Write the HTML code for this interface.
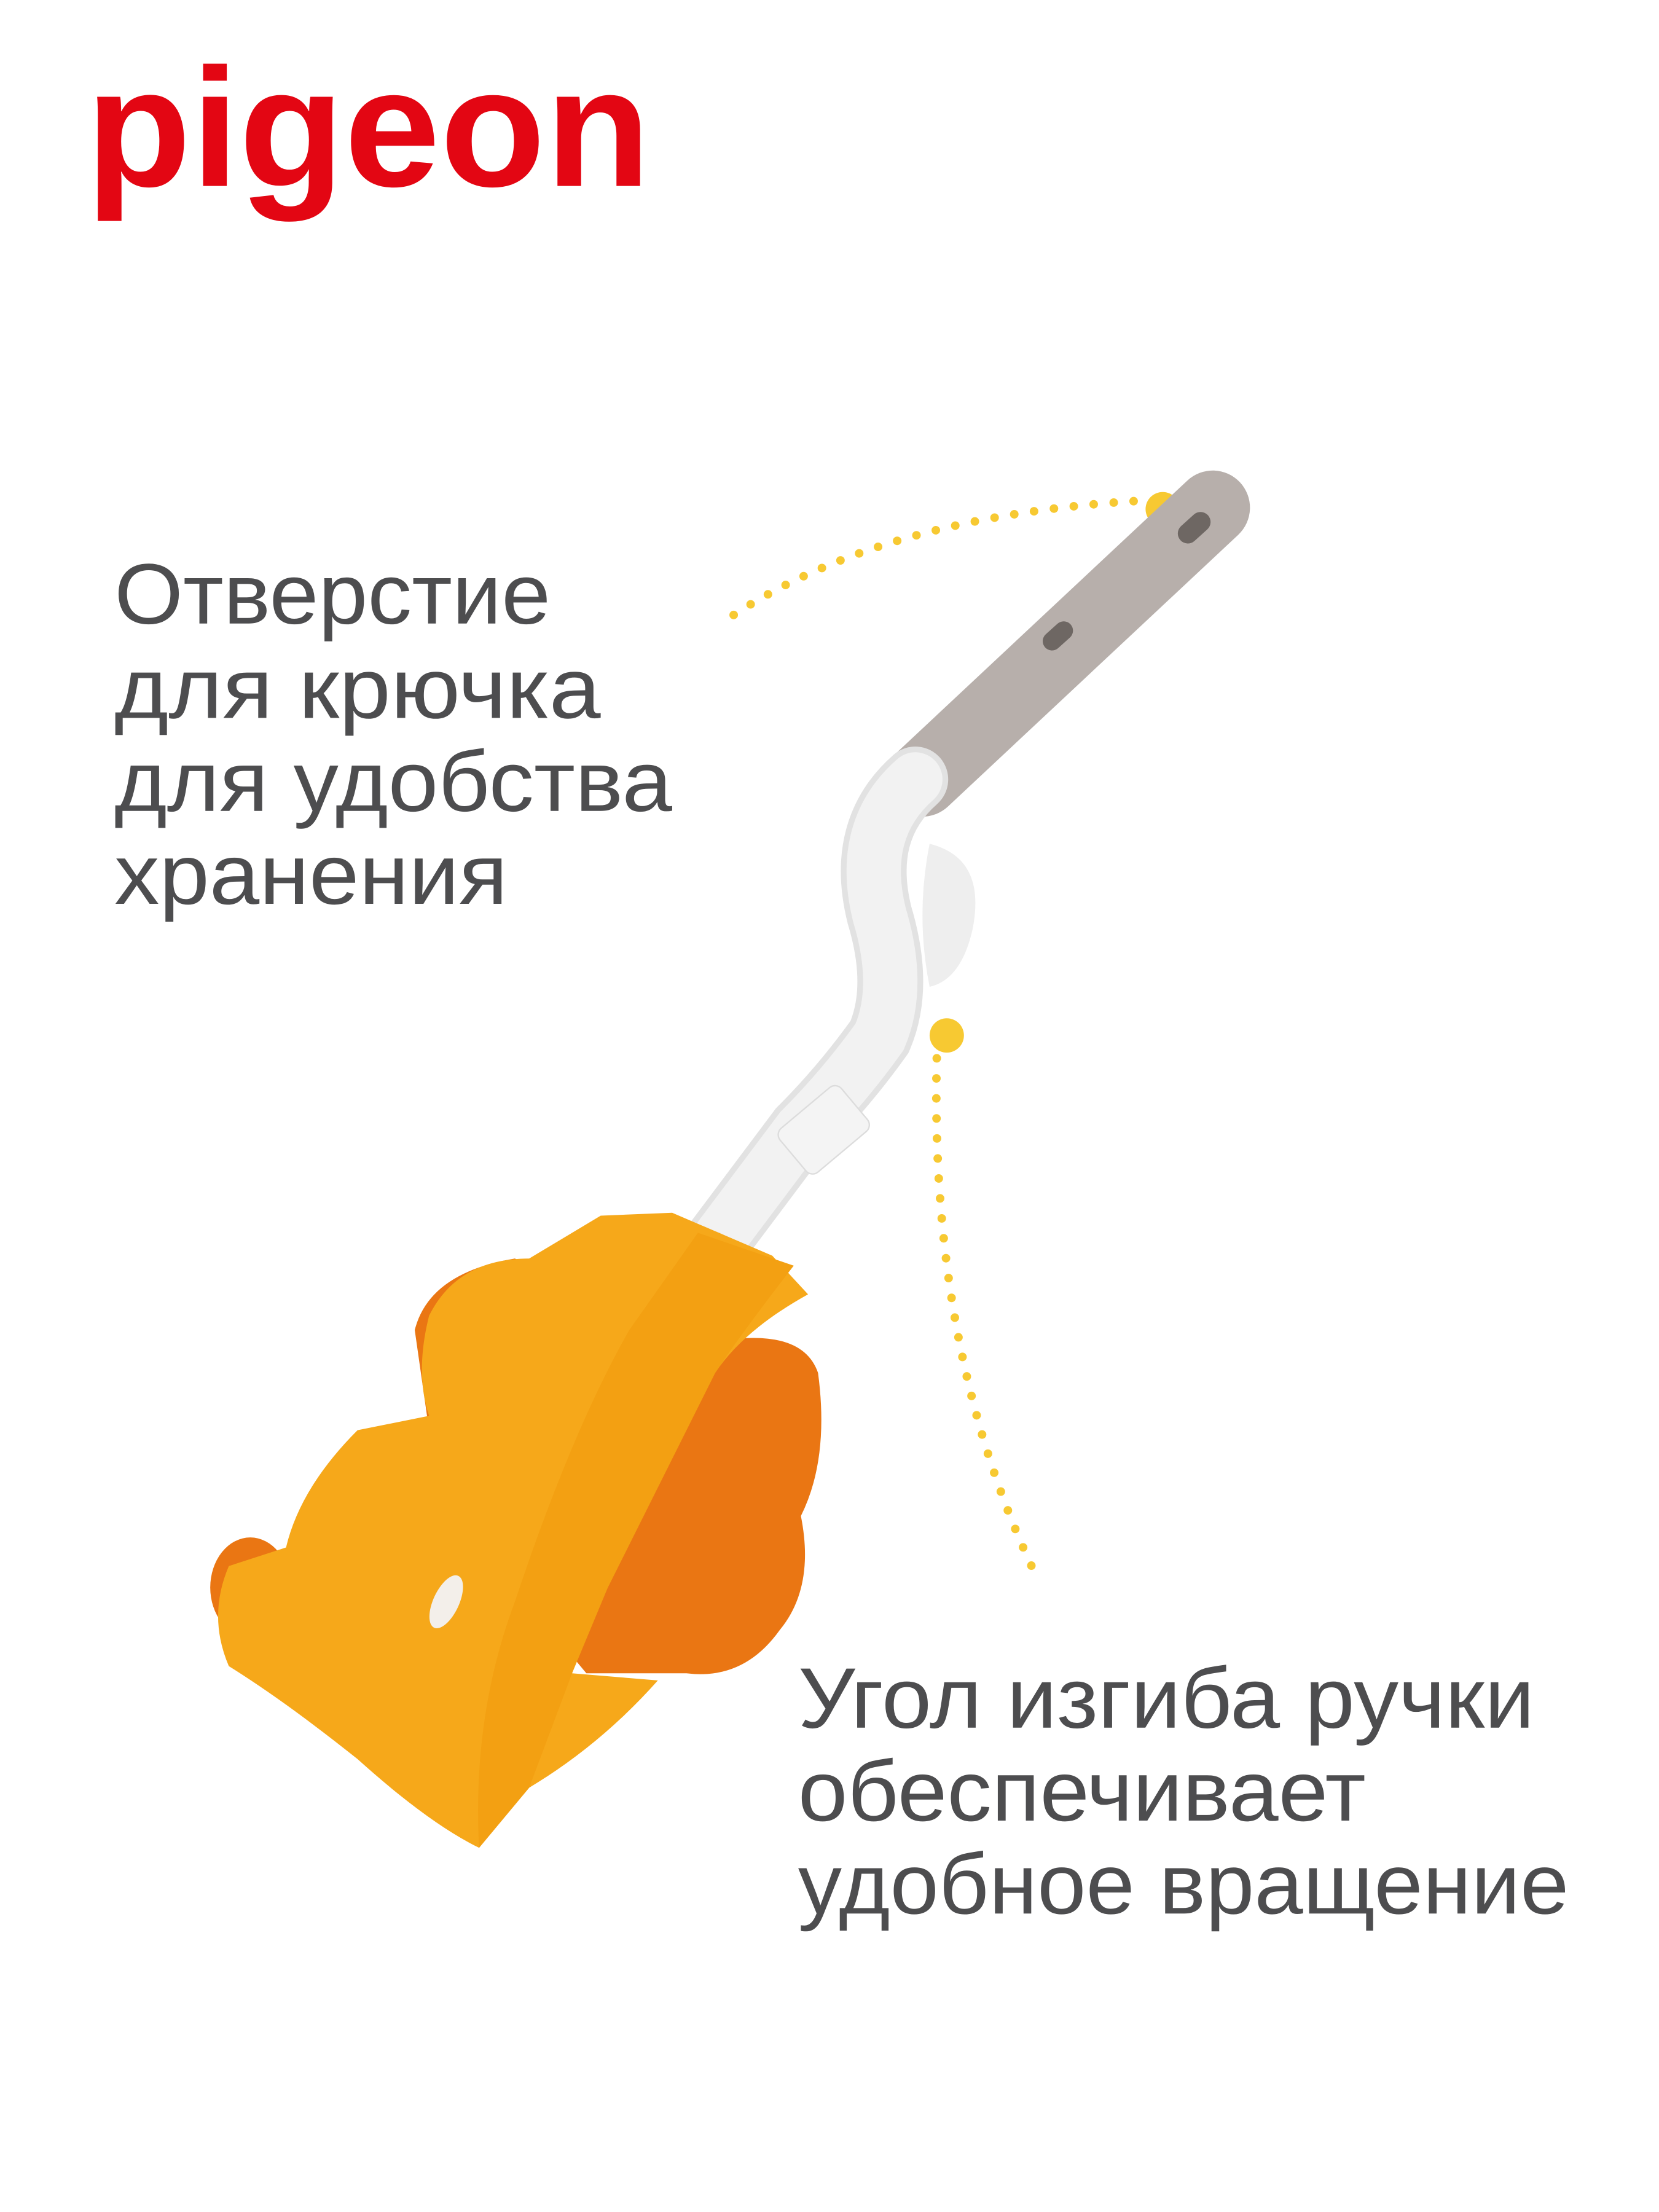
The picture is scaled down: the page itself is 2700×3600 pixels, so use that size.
<!DOCTYPE html>
<html><head><meta charset="utf-8"><style>
html,body{margin:0;padding:0;background:#fff}
svg{display:block}
</style></head><body>
<svg width="2700" height="3600" viewBox="0 0 1160 1546.67" preserveAspectRatio="none" xmlns="http://www.w3.org/2000/svg">
<rect width="1160" height="1547" fill="#fff"/>
<text x="60" y="130" font-family="Liberation Sans, sans-serif" font-weight="bold" font-size="118" fill="#e30613" textLength="395" lengthAdjust="spacingAndGlyphs">pigeon</text>
<g font-family="Liberation Sans, sans-serif" font-size="60" fill="#4d4d4f">
<text x="80" y="436" textLength="305" lengthAdjust="spacingAndGlyphs">Отверстие</text>
<text x="80" y="502" textLength="340" lengthAdjust="spacingAndGlyphs">для крючка</text>
<text x="80" y="567" textLength="390" lengthAdjust="spacingAndGlyphs">для удобства</text>
<text x="80" y="632" textLength="275" lengthAdjust="spacingAndGlyphs">хранения</text>
<text x="558" y="1208" textLength="515" lengthAdjust="spacingAndGlyphs">Угол изгиба ручки</text>
<text x="558" y="1273" textLength="397" lengthAdjust="spacingAndGlyphs">обеспечивает</text>
<text x="558" y="1338" textLength="539" lengthAdjust="spacingAndGlyphs">удобное вращение</text>
</g>
<g fill="none" stroke="#f7c932" stroke-width="6" stroke-linecap="round" stroke-dasharray="0 14">
<path d="M513 430 Q620 360 800 350"/>
<path d="M655 740 Q650 950 727 1107"/>
</g>
<circle cx="813" cy="356" r="12" fill="#f7c932"/>
<circle cx="662" cy="724" r="12" fill="#f7c932"/>
<line x1="848" y1="355" x2="645" y2="545" stroke="#b7afab" stroke-width="52" stroke-linecap="round"/>
<rect x="822" y="362" width="26" height="14" rx="7" fill="#6e6763" transform="rotate(-42 835 369)"/>
<rect x="728" y="438" width="24" height="13" rx="6.5" fill="#6e6763" transform="rotate(-42 740 445)"/>
<path d="M640 545 Q600 580 615 640 Q630 690 615 725 Q590 760 560 790 L500 870" fill="none" stroke="#e2e2e2" stroke-width="46" stroke-linecap="round"/>
<path d="M640 545 Q600 580 615 640 Q630 690 615 725 Q590 760 560 790 L500 870" fill="none" stroke="#f2f2f2" stroke-width="38" stroke-linecap="round"/>
<path d="M650 590 Q690 600 680 650 Q672 685 650 690 Q640 640 650 590z" fill="#eeeeee"/>
<rect x="548" y="770" width="56" height="40" rx="6" fill="#f4f4f4" stroke="#dcdcdc" transform="rotate(-40 576 790)"/>
<line x1="500" y1="870" x2="305" y2="1130" stroke="#f0ebe6" stroke-width="18" stroke-linecap="round"/>
<path d="M290 930 Q300 890 360 880 L420 905 L490 940 Q560 925 572 960 Q580 1020 560 1060 Q570 1110 545 1140 Q520 1175 480 1170 L410 1170 L360 1110 L300 1000z" fill="#ea7613"/>
<ellipse cx="175" cy="1110" rx="28" ry="35" fill="#ea7613"/>
<path d="M470 848 L540 878 L565 905 Q520 930 500 960 L460 1040 L425 1110 Q405 1150 400 1170 L460 1175 Q420 1220 370 1250 L335 1292 Q300 1275 250 1230 Q200 1190 160 1165 Q145 1130 160 1095 L200 1082 Q210 1040 250 1000 L300 990 Q290 960 300 920 Q320 880 370 880 L420 850z" fill="#f6a81a"/>
<path d="M488 862 L555 885 Q520 930 500 960 L460 1040 L425 1110 L400 1170 L370 1250 L335 1292 Q330 1200 360 1120 Q400 1000 440 930z" fill="#f3a012"/>
<ellipse cx="312" cy="1120" rx="9" ry="20" fill="#f3efea" transform="rotate(25 312 1120)"/>
</svg>
</body></html>
